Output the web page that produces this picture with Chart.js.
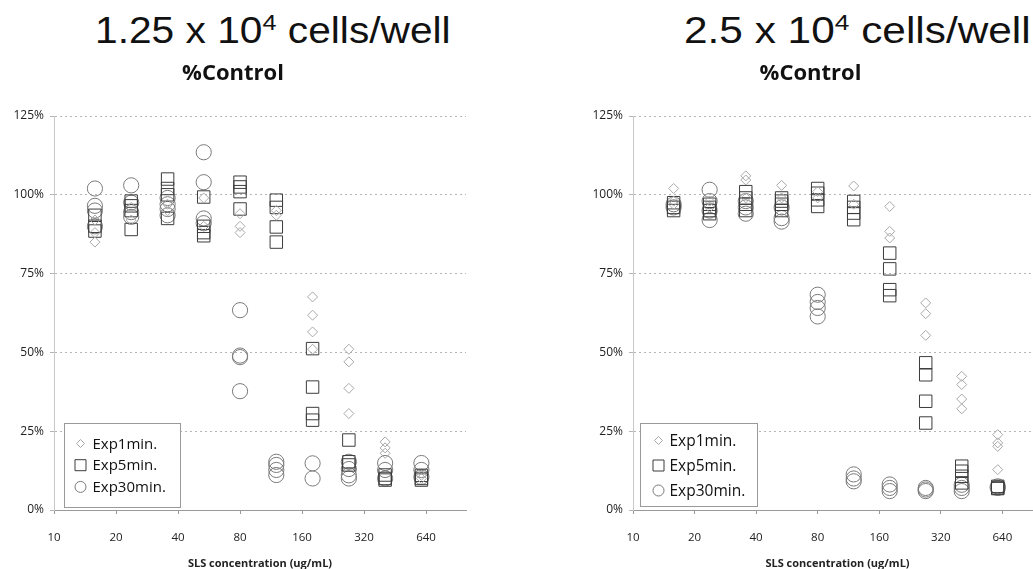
<!DOCTYPE html>
<html><head><meta charset="utf-8">
<script src="https://cdn.jsdelivr.net/npm/chart.js@4.4.1/dist/chart.umd.min.js"></script>
<style>
html,body{margin:0;padding:0;width:1033px;height:569px;overflow:hidden;background:#fff;position:relative;}
.head{position:absolute;top:12px;font-family:"Liberation Sans",Arial,sans-serif;font-size:37px;color:#111;white-space:nowrap;transform-origin:left top;transform:scaleX(1.1);line-height:1;}
.head sup{font-size:0.62em;position:relative;top:-0.55em;vertical-align:baseline;line-height:0;}
canvas{position:absolute;top:0;}
</style></head>
<body>
<div class="head" style="left:95px">1.25 x 10<sup>4</sup> cells/well</div>
<div class="head" style="left:684px;transform:scaleX(1.145)">2.5 x 10<sup>4</sup> cells/well</div>
<canvas id="c1" width="480" height="569" style="left:0px"></canvas>
<canvas id="c2" width="480" height="569" style="left:579px"></canvas>
<script>
// SLS concentrations (ug/mL) of the measured columns
const conc = [15.8, 23.7, 35.6, 53.3, 80, 120, 180, 270, 405, 607.5];
const xTicks = [10, 20, 40, 80, 160, 320, 640];
const seriesNames = ['Exp1min.', 'Exp5min.', 'Exp30min.'];

// 1.25 x 10^4 cells/well  (replicate values per concentration, %Control)
const left1 = [[92,88,85],[96,92],[97,95],[99,90],[94,90,88],[95,93.5],[67.6,61.8,56.5,51],[51,47,38.6,30.6],[21.6,19.7,18],[11,10]];
const left5 = [[93.5,90,88.5],[98,96.5,95,89],[105,102,100,92.5],[99.3,90,88,87],[104,102.5,101,95.5],[98.3,96,89.8,85],[51.2,39,30.6,28.5],[22.2,15.3,14.3],[11.1,10,9.5],[11,10,9.5]];
const left30 = [[102,96.5,95,90],[103,97.5,94.5,93],[99,97,95.5,93.5],[113.5,104,92.5,91],[63.4,49,48.5,37.7],[15.3,14.3,12.7,11.1],[14.8,10],[15.3,13,11,10],[14.9,12.7,10],[14.9,12.7,10.5]];

// 2.5 x 10^4 cells/well
const right1 = [[102,98,97],[98,96],[106,104.7,99],[103,99],[101,99],[102.8,97],[96.3,88.4,86.3],[65.7,62.3,55.4],[42.4,39.8,35.2,32.1],[23.9,21.3,20.2,12.8]];
const right5 = [[97.5,96,95],[97,96,95,94],[101,99,97,95],[99,98,97,95],[102,100.5,98.4,96.3],[97.9,96,94.2,92.1],[81.5,76.5,69.9,68],[46.7,42.9,34.5,27.6],[13.9,12.3,10.7,8.6],[7.5,7,6.8]];
const right30 = [[97,96],[101.6,98,95,92],[98,96,94],[96,92.6,91.5],[68.3,66,64.1,61.4],[11.3,10,9.1],[8.1,7,6],[7,6.5,6],[8,7,6],[7.5,7]];

const styles = [
  {pointStyle:'rectRot', pointRadius:5, borderColor:'#a8a8a8'},
  {pointStyle:'rect', pointRadius:8.8, borderColor:'#3c3c3c'},
  {pointStyle:'circle', pointRadius:7.6, borderColor:'#7a7a7a'}
];

function toPoints(cols){
  const pts = [];
  cols.forEach((vals,i)=>vals.forEach(v=>pts.push({x:conc[i], y:v})));
  return pts;
}

const boxLegend = {
  id:'boxLegend',
  afterDatasetsDraw(chart, args, o){
    const {ctx, chartArea} = chart;
    const x0 = Math.round(chartArea.left + o.dx) + 0.5;
    const y0 = Math.round(chartArea.bottom - o.db - o.h) + 0.5;
    ctx.save();
    ctx.fillStyle = '#fff';
    ctx.fillRect(x0, y0, o.w, o.h);
    ctx.strokeStyle = '#9a9a9a'; ctx.lineWidth = 1;
    ctx.strokeRect(x0, y0, o.w, o.h);
    chart.data.datasets.forEach((ds,i)=>{
      const cy = y0 + o.first + i*o.gap;
      const cx = x0 + o.mx;
      ctx.strokeStyle = ds.borderColor; ctx.lineWidth = 1;
      ctx.beginPath();
      const r = o.r[i];
      if (ds.pointStyle === 'rectRot'){
        ctx.moveTo(cx - r, cy); ctx.lineTo(cx, cy - r); ctx.lineTo(cx + r, cy); ctx.lineTo(cx, cy + r); ctx.closePath();
      } else if (ds.pointStyle === 'rect'){
        ctx.rect(cx - r, cy - r, 2*r, 2*r);
      } else {
        ctx.arc(cx, cy, r, 0, Math.PI*2);
      }
      ctx.stroke();
      ctx.fillStyle = '#111';
      ctx.font = o.font;
      ctx.textBaseline = 'middle';
      ctx.textAlign = 'left';
      ctx.fillText(ds.label, x0 + o.tx, cy + 1);
    });
    ctx.restore();
  }
};

function makeChart(id, s1, s5, s30, padRight, legendOpts){
  const sets = [s1, s5, s30].map((s,i)=>Object.assign({
    label: seriesNames[i],
    data: toPoints(s),
    backgroundColor:'rgba(0,0,0,0)',
    pointBorderWidth:1,
    showLine:false,
    pointHoverRadius:0
  }, styles[i], {pointBackgroundColor:'rgba(0,0,0,0)', pointBorderColor:styles[i].borderColor}));
  return new Chart(document.getElementById(id), {
    type:'scatter',
    data:{datasets:sets},
    plugins:[boxLegend],
    options:{
      responsive:false, animation:false, events:[],
      layout:{padding:{left:0, right:padRight, top:0, bottom:0}},
      plugins:{
        legend:{display:false},
        tooltip:{enabled:false},
        title:{display:true, text:'%Control', color:'#111',
          font:{family:'"Open Sans", sans-serif', weight:'bold', size:22},
          padding:{top:61, bottom:28.6}},
        boxLegend: legendOpts
      },
      scales:{
        x:{
          type:'logarithmic', min:10, max:1000,
          afterBuildTicks(scale){ scale.ticks = xTicks.map(v=>({value:v})); },
          afterFit(scale){ scale.height = 59; },
          ticks:{autoSkip:false, maxRotation:0, padding:17, color:'#222',
            font:{family:'"Open Sans", sans-serif', size:11.5},
            callback:(v)=>String(v)},
          grid:{drawOnChartArea:false, drawTicks:true, tickLength:4, color:'#999'},
          border:{display:true, color:'#9a9a9a', width:1},
          title:{display:true, text:'SLS concentration (ug/mL)', color:'#222',
            font:{family:'"Open Sans", sans-serif', weight:'bold', size:11}, padding:{top:0,bottom:-1}}
        },
        y:{
          min:0, max:125,
          afterBuildTicks(scale){ scale.ticks = [0,25,50,75,100,125].map(v=>({value:v})); },
          afterFit(scale){ scale.width = 54; },
          ticks:{padding:6, color:'#222', font:{family:'"Open Sans", sans-serif', size:12},
            callback:(v)=>v+'%'},
          grid:{color:'#b5b5b5', tickLength:4, lineWidth:1},
          border:{display:true, color:'#c8c8c8', width:1, dash:[2,3]}
        }
      }
    }
  });
}

makeChart('c1', left1, left5, left30, 14,
  {dx:10, db:3, w:116, h:84, first:20, gap:21.7, mx:16, tx:28, r:[4,5.5,5.5], font:'15px "Open Sans", sans-serif'});
makeChart('c2', right1, right5, right30, 17,
  {dx:7, db:4, w:117, h:83, first:17, gap:25, mx:18, tx:29, r:[4,5.5,5.5], font:'15.5px "Open Sans", sans-serif'});
</script>
</body></html>
